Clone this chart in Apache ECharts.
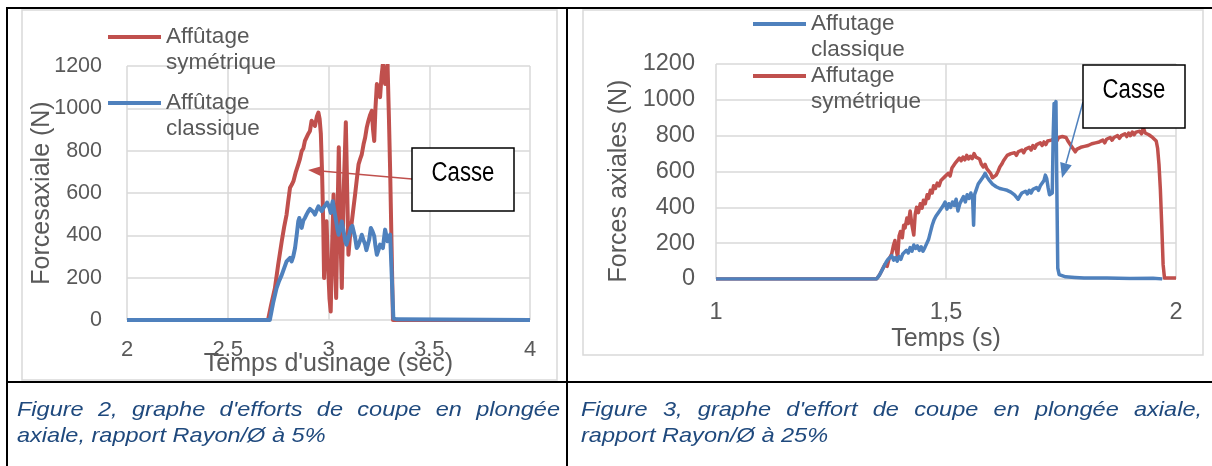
<!DOCTYPE html>
<html>
    <head>
        <title>Efforts de coupe</title>
        <meta charset="UTF-8">
        <script src="https://cdn.jsdelivr.net/npm/echarts/dist/echarts.min.js"></script>
    </head>
    <body style="margin:0;background:#fff;">
        <div id="main" style="width:1212px;height:466px;"></div>
        <script>
            // Figure 2 (rapport 5%)
            var fig2XTicks = ['2', '2.5', '3', '3.5', '4'];
            var fig2SymTime = [2, 2.700, 2.715, 2.734, 2.750, 2.768, 2.780, 2.792, 2.800, 2.809, 2.818, 2.826, 2.838, 2.850, 2.858, 2.867, 2.875, 2.883, 2.892, 2.900, 2.908, 2.916, 2.925, 2.933, 2.942, 2.950, 2.956, 2.962, 2.968, 2.974, 2.978, 2.983, 2.990, 2.998, 3.005, 3.011, 3.018, 3.025, 3.032, 3.038, 3.045, 3.051, 3.058, 3.066, 3.075, 3.086, 3.093, 3.099, 3.107, 3.116, 3.124, 3.132, 3.140, 3.149, 3.157, 3.165, 3.174, 3.182, 3.190, 3.198, 3.207, 3.215, 3.221, 3.227, 3.233, 3.240, 3.248, 3.256, 3.263, 3.270, 3.276, 3.281, 3.287, 3.293, 3.300, 3.306, 3.313, 3.320, 4];
            var fig2SymForce = [0, 0, 70, 150, 260, 372, 440, 498, 560, 625, 640, 656, 700, 735, 760, 798, 810, 846, 850, 880, 893, 941, 930, 917, 960, 980, 950, 880, 700, 450, 198, 400, 466, 250, 100, 40, 350, 593, 300, 104, 500, 816, 450, 151, 600, 934, 600, 308, 400, 466, 530, 593, 660, 735, 760, 782, 830, 862, 910, 941, 970, 988, 900, 846, 1000, 1115, 1080, 1053, 1150, 1210, 1150, 1115, 1180, 1210, 950, 703, 350, 0, 0];
            var fig2ClaTime = [2, 2.709, 2.725, 2.742, 2.755, 2.768, 2.780, 2.792, 2.800, 2.809, 2.817, 2.825, 2.834, 2.842, 2.850, 2.855, 2.861, 2.867, 2.875, 2.883, 2.892, 2.900, 2.908, 2.916, 2.925, 2.933, 2.942, 2.950, 2.958, 2.966, 2.975, 2.987, 2.993, 2.999, 3.005, 3.011, 3.016, 3.021, 3.030, 3.038, 3.044, 3.050, 3.058, 3.066, 3.075, 3.083, 3.089, 3.094, 3.102, 3.111, 3.118, 3.124, 3.132, 3.140, 3.147, 3.154, 3.160, 3.165, 3.173, 3.182, 3.188, 3.193, 3.202, 3.210, 3.218, 3.227, 3.233, 3.240, 3.248, 3.256, 3.263, 3.270, 3.276, 3.281, 3.287, 3.293, 3.300, 3.306, 3.314, 3.322, 3.340, 4];
            var fig2ClaForce = [0, 0, 80, 150, 185, 213, 245, 277, 285, 293, 277, 300, 340, 400, 466, 482, 460, 435, 470, 482, 500, 514, 525, 530, 510, 498, 520, 537, 525, 514, 530, 545, 555, 561, 530, 506, 540, 561, 510, 466, 430, 403, 430, 466, 420, 372, 356, 356, 400, 435, 445, 443, 390, 340, 350, 356, 385, 403, 380, 356, 330, 324, 380, 435, 420, 396, 350, 308, 330, 356, 350, 340, 390, 427, 400, 372, 390, 403, 403, 8, 3, 0];

            // Figure 3 (rapport 25%)
            var fig3XTicks = ['1', '1,5', '2'];
            var fig3SymTime = [1.000, 1.349, 1.356, 1.362, 1.367, 1.372, 1.376, 1.382, 1.386, 1.389, 1.392, 1.395, 1.398, 1.401, 1.405, 1.408, 1.411, 1.415, 1.418, 1.422, 1.426, 1.430, 1.433, 1.436, 1.440, 1.444, 1.448, 1.451, 1.455, 1.459, 1.462, 1.466, 1.470, 1.473, 1.477, 1.481, 1.485, 1.489, 1.493, 1.497, 1.501, 1.505, 1.509, 1.513, 1.517, 1.521, 1.525, 1.529, 1.533, 1.537, 1.541, 1.545, 1.549, 1.553, 1.557, 1.561, 1.565, 1.569, 1.573, 1.577, 1.581, 1.585, 1.589, 1.593, 1.597, 1.601, 1.605, 1.609, 1.613, 1.617, 1.621, 1.625, 1.629, 1.633, 1.637, 1.641, 1.645, 1.649, 1.653, 1.657, 1.661, 1.665, 1.669, 1.673, 1.677, 1.681, 1.685, 1.689, 1.693, 1.697, 1.701, 1.705, 1.709, 1.713, 1.717, 1.721, 1.725, 1.729, 1.733, 1.737, 1.741, 1.745, 1.749, 1.753, 1.757, 1.761, 1.765, 1.769, 1.773, 1.777, 1.781, 1.785, 1.789, 1.793, 1.797, 1.801, 1.805, 1.809, 1.813, 1.817, 1.821, 1.825, 1.829, 1.833, 1.837, 1.841, 1.845, 1.849, 1.853, 1.857, 1.861, 1.865, 1.869, 1.873, 1.877, 1.881, 1.885, 1.889, 1.893, 1.897, 1.901, 1.905, 1.909, 1.913, 1.917, 1.921, 1.925, 1.929, 1.933, 1.937, 1.941, 1.945, 1.949, 1.953, 1.957, 1.960, 1.963, 1.966, 1.969, 1.972, 1.975, 2.000];
            var fig3SymForce = [0, 0, 25, 55, 80, 70, 110, 140, 190, 215, 160, 120, 240, 265, 230, 300, 285, 340, 310, 380, 300, 245, 360, 400, 370, 420, 395, 440, 420, 470, 450, 495, 480, 520, 505, 535, 520, 550, 540, 570, 560, 590, 575, 620, 610, 650, 640, 675, 660, 680, 665, 690, 670, 685, 672, 700, 680, 690, 670, 640, 625, 640, 615, 610, 590, 565, 555, 580, 600, 625, 640, 660, 650, 690, 680, 700, 690, 705, 690, 710, 700, 720, 705, 725, 715, 735, 720, 745, 730, 750, 740, 760, 745, 765, 750, 770, 760, 775, 765, 785, 770, 790, 780, 795, 785, 790, 770, 760, 740, 730, 710, 725, 715, 735, 725, 740, 730, 745, 735, 755, 745, 760, 750, 765, 755, 775, 760, 780, 770, 790, 775, 790, 780, 800, 785, 800, 790, 810, 795, 815, 800, 820, 805, 820, 810, 825, 810, 845, 815, 820, 805, 810, 790, 790, 770, 730, 640, 500, 300, 80, 5, 5];
            var fig3ClaTime = [1.000, 1.349, 1.355, 1.360, 1.365, 1.370, 1.374, 1.378, 1.382, 1.386, 1.390, 1.394, 1.398, 1.402, 1.406, 1.410, 1.414, 1.418, 1.422, 1.426, 1.430, 1.434, 1.438, 1.442, 1.446, 1.450, 1.454, 1.458, 1.462, 1.466, 1.470, 1.474, 1.478, 1.482, 1.486, 1.490, 1.494, 1.498, 1.502, 1.506, 1.510, 1.514, 1.518, 1.522, 1.526, 1.530, 1.534, 1.538, 1.542, 1.546, 1.550, 1.554, 1.558, 1.560, 1.562, 1.566, 1.570, 1.574, 1.578, 1.582, 1.585, 1.589, 1.593, 1.597, 1.601, 1.605, 1.609, 1.613, 1.617, 1.621, 1.625, 1.629, 1.633, 1.637, 1.641, 1.645, 1.649, 1.653, 1.657, 1.661, 1.665, 1.669, 1.673, 1.677, 1.681, 1.685, 1.689, 1.693, 1.697, 1.701, 1.705, 1.709, 1.713, 1.716, 1.719, 1.722, 1.725, 1.728, 1.731, 1.733, 1.735, 1.737, 1.739, 1.741, 1.743, 1.746, 1.750, 1.760, 1.780, 1.800, 1.850, 1.900, 1.950, 1.970];
            var fig3ClaForce = [0, 0, 20, 45, 70, 95, 110, 100, 130, 105, 120, 100, 125, 110, 140, 130, 160, 145, 175, 155, 190, 170, 185, 160, 180, 155, 175, 165, 220, 260, 300, 330, 350, 340, 380, 370, 410, 430, 390, 420, 400, 430, 410, 445, 380, 420, 440, 460, 430, 470, 450, 480, 440, 300, 470, 500, 530, 520, 560, 575, 590, 570, 555, 545, 530, 525, 515, 520, 505, 510, 500, 505, 495, 500, 485, 490, 470, 480, 445, 465, 480, 470, 490, 475, 495, 480, 500, 490, 510, 495, 520, 510, 550, 580, 560, 510, 470, 460, 480, 800, 980, 960, 990, 500, 60, 25, 15, 12, 8, 5, 5, 3, 4, 0];

            var gb = {
                red: '#C0504D',
                blue: '#4F81BD',
                grid: '#D9D9D9',
                text: '#595959',
                caption: '#1F497D',
                font: 'Liberation Sans'
            };

            function pairs(xs, ys) {
                var out = [];
                for (var i = 0; i < xs.length; i++) {
                    out.push([xs[i], ys[i]]);
                }
                return out;
            }

            // ligne avec flèche (annotation "Casse")
            function arrow(x0, y0, x1, y1, color, len, half) {
                var dx = x1 - x0, dy = y1 - y0;
                var d = Math.sqrt(dx * dx + dy * dy);
                var ux = dx / d, uy = dy / d;
                var bx = x1 - ux * len, by = y1 - uy * len;
                return [
                    {type: 'line', z: 100, shape: {x1: x0, y1: y0, x2: bx, y2: by}, style: {stroke: color, lineWidth: 1.5}},
                    {type: 'polygon', z: 100, shape: {points: [[x1, y1], [bx - uy * half, by + ux * half], [bx + uy * half, by - ux * half]]}, style: {fill: color}}
                ];
            }

            function legendItem(x, y, color, lines) {
                return [
                    {type: 'line', z: 50, shape: {x1: x, y1: y, x2: x + 53, y2: y}, style: {stroke: color, lineWidth: 4}},
                    {type: 'text', z: 50, x: x + 58, y: y - 13, style: {text: lines, fill: gb.text, font: '22.5px "' + gb.font + '"', lineHeight: 26, verticalAlign: 'top'}}
                ];
            }

            function casseBox(x, y) {
                return [
                    {type: 'rect', z: 100, shape: {x: x, y: y, width: 102, height: 63}, style: {fill: '#fff', stroke: '#000', lineWidth: 1.5}},
                    {type: 'text', z: 101, x: x + 51, y: y + 26, scaleX: 0.82, style: {text: 'Casse', fill: '#000', font: '27px "' + gb.font + '"', align: 'center', verticalAlign: 'middle'}}
                ];
            }

            // légendes (texte justifié comme dans le document)
            var CAP_FONT = 'italic 21px "' + gb.font + '"';
            var CAP_SX = 1.12;
            var mctx = document.createElement('canvas').getContext('2d');
            function captionLine(text, x0, x1, y, justify) {
                mctx.font = CAP_FONT;
                var words = text.split(' ');
                var widths = words.map(function (w) { return mctx.measureText(w).width * CAP_SX; });
                var total = widths.reduce(function (a, b) { return a + b; }, 0);
                var gap = justify ? (x1 - x0 - total) / (words.length - 1) : mctx.measureText(' ').width * CAP_SX;
                var out = [], x = x0;
                for (var i = 0; i < words.length; i++) {
                    out.push({type: 'text', x: x, y: y, scaleX: CAP_SX, style: {text: words[i], fill: gb.caption, font: CAP_FONT, verticalAlign: 'middle'}});
                    x += widths[i] + gap;
                }
                return out;
            }

            var graphics = [].concat(
                [
                    {type: 'rect', shape: {x: 22, y: 10, width: 535, height: 370}, style: {fill: null, stroke: gb.grid, lineWidth: 1.5}},
                    {type: 'rect', shape: {x: 583, y: 10, width: 620, height: 345}, style: {fill: null, stroke: gb.grid, lineWidth: 1.5}},
                    {type: 'line', shape: {x1: 6, y1: 8, x2: 1212, y2: 8}, style: {stroke: '#000', lineWidth: 2}},
                    {type: 'line', shape: {x1: 7, y1: 7, x2: 7, y2: 466}, style: {stroke: '#000', lineWidth: 2}},
                    {type: 'line', shape: {x1: 567, y1: 7, x2: 567, y2: 466}, style: {stroke: '#000', lineWidth: 2}},
                    {type: 'line', shape: {x1: 6, y1: 382, x2: 1212, y2: 382}, style: {stroke: '#000', lineWidth: 2}}
                ],
                legendItem(108, 37, gb.red, 'Affûtage\nsymétrique'),
                legendItem(108, 103, gb.blue, 'Affûtage\nclassique'),
                legendItem(753, 24, gb.blue, 'Affutage\nclassique'),
                legendItem(753, 76, gb.red, 'Affutage\nsymétrique'),
                arrow(412, 179, 308, 170, gb.red, 13, 5),
                arrow(1083, 102, 1062, 178, gb.blue, 15, 6),
                casseBox(412, 148),
                casseBox(1083, 65),
                captionLine("Figure 2, graphe d'efforts de coupe en plongée", 17, 560, 410, true),
                captionLine('axiale, rapport Rayon/Ø à 5%', 17, 560, 436, false),
                captionLine("Figure 3, graphe d'effort de coupe en plongée axiale,", 581, 1202, 410, true),
                captionLine('rapport Rayon/Ø à 25%', 581, 1202, 436, false)
            );

            function valueAxisX(idx, min, max, ticks, fontSize, margin, name, nameGap) {
                return {
                    type: 'value', gridIndex: idx, min: min, max: max, interval: 0.5,
                    name: name, nameLocation: 'middle', nameGap: nameGap, nameMoveOverlap: false,
                    nameTextStyle: {color: gb.text, fontSize: 25, fontFamily: gb.font},
                    axisLine: {show: false}, axisTick: {show: false},
                    axisLabel: {
                        color: gb.text, fontSize: fontSize, fontFamily: gb.font, margin: margin,
                        formatter: function (v) { return ticks[Math.round((v - min) / 0.5)]; }
                    },
                    splitLine: {show: true, lineStyle: {color: gb.grid, width: 1.5}}
                };
            }

            function valueAxisY(idx, fontSize, margin, name, nameGap, pad) {
                return {
                    type: 'value', gridIndex: idx, min: 0, max: 1200, interval: 200,
                    name: name, nameLocation: 'middle', nameGap: nameGap, nameRotate: 90, nameMoveOverlap: false,
                    nameTextStyle: {color: gb.text, fontSize: 25, fontFamily: gb.font, padding: pad},
                    axisLine: {show: false}, axisTick: {show: false},
                    axisLabel: {
                        color: gb.text, fontSize: fontSize, fontFamily: gb.font, margin: margin,
                        formatter: function (v) { return String(v); }
                    },
                    splitLine: {show: true, lineStyle: {color: gb.grid, width: 1.5}}
                };
            }

            function lineSeries(name, idx, data, color, width) {
                return {
                    name: name, type: 'line', xAxisIndex: idx, yAxisIndex: idx,
                    data: data, showSymbol: false, symbol: 'none', clip: true,
                    lineStyle: {color: color, width: width, join: 'round'},
                    itemStyle: {color: color}
                };
            }

            var myChart = echarts.init(document.getElementById('main'));
            var option = {
                animation: false,
                grid: [
                    {left: 127, right: 1212 - 530, top: 66, bottom: 466 - 320},
                    {left: 716, right: 1212 - 1176, top: 64, bottom: 466 - 279}
                ],
                xAxis: [
                    valueAxisX(0, 2, 4, fig2XTicks, 22, 19, "Temps d'usinage (sec)", 32),
                    valueAxisX(1, 1, 2, fig3XTicks, 23.5, 22, 'Temps (s)', 48)
                ],
                yAxis: [
                    valueAxisY(0, 21.5, 25, 'Forcesaxiale (N)', 72, [0, 0, 0, 0]),
                    valueAxisY(1, 23.5, 21, 'Forces axiales (N)', 84, [0, 19, 0, 0])
                ],
                series: [
                    lineSeries('Affûtage symétrique', 0, pairs(fig2SymTime, fig2SymForce), gb.red, 4),
                    lineSeries('Affûtage classique', 0, pairs(fig2ClaTime, fig2ClaForce), gb.blue, 4),
                    lineSeries('Affutage symétrique', 1, pairs(fig3SymTime, fig3SymForce), gb.red, 3.5),
                    lineSeries('Affutage classique', 1, pairs(fig3ClaTime, fig3ClaForce), gb.blue, 3.5)
                ],
                graphic: graphics
            };
            myChart.setOption(option);
        </script>
    </body>
</html>
